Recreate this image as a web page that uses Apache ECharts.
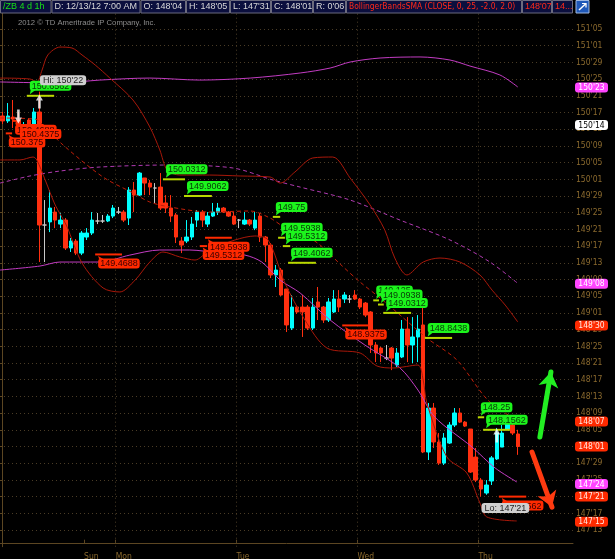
<!DOCTYPE html>
<html><head><meta charset="utf-8"><title>/ZB 4 d 1h</title>
<script src="https://cdn.jsdelivr.net/npm/echarts@6.0.0/dist/echarts.min.js"></script>
<style>html,body{margin:0;padding:0;background:#000;overflow:hidden}#chart{width:615px;height:559px}</style>
</head><body><div id="chart"></div><script>
// ---------------- DATA (prices in points) ----------------
// one hourly candle per slot, slot 0 = Fri 01:00 ET ... slot 98 = Thu 12/13 07:00
const opens  = [150.505,150.468,150.497,150.475,150.408,150.475,150.438,150.535,149.689,149.712,
149.786,149.696,149.726,149.517,149.569,149.479,149.599,149.629,149.719,149.719,
149.719,149.756,149.786,149.786,149.741,149.951,149.913,150.041,150.003,149.966,
149.973,149.854,149.816,149.764,149.569,149.569,149.599,149.726,149.786,149.696,
149.756,149.786,149.816,149.786,149.756,149.726,149.696,149.726,149.666,149.756,
149.599,149.539,149.315,149.352,149.210,148.918,149.075,149.075,149.075,148.918,
149.113,149.075,148.978,149.038,149.135,149.135,149.135,149.165,149.135,149.105,
149.038,148.791,148.768,148.693,148.768,148.641,148.701,148.910,148.791,148.851,
148.941,147.990,148.319,148.065,147.907,148.057,148.192,148.282,148.214,148.162,
147.952,147.780,147.683,147.773,147.938,148.027,148.162,148.192,148.125];
const highs  = [150.535,150.602,150.625,150.535,150.460,150.490,150.565,150.6875,149.876,149.951,
149.824,149.779,149.741,149.592,149.584,149.644,149.666,149.786,149.779,149.764,
149.771,149.839,149.824,149.801,149.973,150.011,150.086,150.041,150.026,150.003,
150.078,149.913,149.913,149.779,149.599,149.726,149.749,149.801,149.801,149.786,
149.854,149.854,149.824,149.794,149.786,149.734,149.786,149.734,149.786,149.779,
149.607,149.554,149.390,149.367,149.210,149.165,149.090,149.165,149.090,149.143,
149.225,149.083,149.143,149.202,149.202,149.187,149.165,149.202,149.143,149.113,
149.045,148.813,148.776,148.791,148.776,148.768,148.978,149.000,149.000,149.015,
149.075,148.357,148.357,148.132,148.132,148.214,148.319,148.319,148.222,148.162,
148.020,147.795,147.780,147.960,148.170,148.192,148.222,148.214,148.15625];
const lows   = [150.445,150.453,150.415,150.393,150.393,150.423,150.423,149.412,149.412,149.636,
149.666,149.666,149.502,149.487,149.464,149.464,149.577,149.614,149.696,149.704,
149.711,149.741,149.771,149.711,149.689,149.786,149.906,149.913,149.913,149.854,
149.801,149.779,149.711,149.554,149.479,149.554,149.577,149.674,149.674,149.674,
149.749,149.764,149.779,149.749,149.689,149.666,149.689,149.681,149.651,149.562,
149.412,149.292,149.225,149.158,148.888,148.903,149.023,148.851,148.903,148.903,
148.978,148.956,148.963,149.030,149.038,149.105,149.105,149.128,149.060,149.000,
148.731,148.663,148.663,148.678,148.603,148.626,148.693,148.663,148.656,148.663,
147.982,147.930,148.020,147.893,147.893,148.050,148.177,148.207,148.177,147.833,
147.765,147.65625,147.670,147.743,147.930,148.027,148.155,148.117,147.96875];
const closes = [150.468,150.505,150.482,150.438,150.438,150.438,150.535,149.689,149.689,149.816,
149.726,149.726,149.517,149.569,149.479,149.629,149.629,149.726,149.719,149.719,
149.756,149.816,149.786,149.726,149.951,149.913,150.078,150.003,149.973,149.966,
149.816,149.816,149.756,149.599,149.539,149.599,149.696,149.786,149.726,149.756,
149.786,149.816,149.786,149.756,149.696,149.726,149.726,149.696,149.726,149.599,
149.539,149.315,149.352,149.165,148.941,149.075,149.038,149.038,148.918,149.075,
149.075,148.978,149.113,149.135,149.075,149.165,149.135,149.135,149.075,149.015,
148.791,148.731,148.731,148.693,148.693,148.731,148.910,148.791,148.851,148.910,
147.990,148.319,148.065,147.907,148.095,148.192,148.282,148.214,148.184,147.840,
147.780,147.713,147.743,147.946,148.132,148.132,148.207,148.132,148.03125];

// x-axis: day boundaries (slot edges) and names
const dayNames      = ['Sun','Mon','Tue','Wed','Thu'];
const dayStartSlots = [15.5, 21.5, 44.5, 67.5, 90.5];
const gridLineDays  = ['Mon','Tue','Wed','Thu'];

// Bollinger Bands SMA (25, 2.0) – [slot, price]
const bbUpper = [[-0.5,150.789],[5.2,150.782],[6.5,150.760],[7.5,150.849],[8.6,150.962],[10.9,151.021],[13.2,151.014],[15.1,150.962],[17.6,150.887],[20.4,150.789],[24.8,150.625],[28.0,150.423],[29.9,150.251],[31.3,150.101],[33.7,150.063],[39.4,150.063],[45.2,150.056],[50.9,150.048],[52.8,150.003],[55.6,150.086],[59.0,150.191],[62.8,150.198],[66.1,150.041],[69.9,149.839],[72.7,149.651],[74.6,149.442],[76.9,149.315],[80.0,149.412],[83.2,149.442],[87.0,149.412],[90.8,149.315],[93.1,149.202],[95.6,149.090],[98.0,148.963]];
const bbMid   = [[-0.5,150.490],[6.2,150.482],[7.5,150.445],[11.5,150.288],[19.1,150.048],[24.8,149.929],[28.0,149.861],[31.8,149.824],[39.4,149.786],[47.1,149.794],[50.9,149.741],[53.3,149.681],[56.6,149.637],[60.4,149.539],[64.2,149.397],[68.0,149.262],[71.8,149.143],[75.6,149.015],[80.7,148.843],[86.4,148.679],[92.3,148.379],[98.0,148.222]];
const bbLower = [[-0.5,150.176],[3.3,150.176],[5.8,150.198],[6.5,150.176],[8.1,150.026],[10.0,149.839],[12.1,149.689],[15.1,149.405],[19.1,149.218],[22.3,149.188],[25.2,149.277],[28.0,149.412],[30.5,149.487],[33.7,149.450],[36.6,149.427],[39.4,149.502],[44.2,149.577],[48.0,149.607],[50.5,149.577],[53.7,149.255],[57.5,148.978],[61.7,148.768],[68.0,148.731],[71.2,148.634],[74.3,148.619],[79.0,148.641],[80.0,148.529],[80.7,148.357],[84.5,147.953],[88.3,147.833],[90.8,147.608],[92.1,147.504],[97.8,147.474]];
// second (magenta) envelope
const maUpper = [[-0.5,150.760],[10.9,150.752],[18.5,150.774],[28.0,150.789],[37.5,150.774],[47.1,150.789],[56.6,150.827],[62.3,150.864],[66.1,150.909],[71.8,150.939],[79.4,150.947],[85.1,150.924],[88.9,150.879],[94.6,150.812],[98.0,150.722]];
const maMid   = [[-0.5,150.003],[5.2,150.056],[10.9,150.093],[18.5,150.123],[31.3,150.138],[43.8,150.116],[51.4,150.026],[56.6,149.973],[66.1,149.876],[75.6,149.726],[85.1,149.577],[92.7,149.412],[98.0,149.252]];
const maLower = [[-0.5,149.352],[7.1,149.382],[10.9,149.412],[18.5,149.412],[24.2,149.464],[29.9,149.502],[35.6,149.502],[41.3,149.479],[46.1,149.464],[49.3,149.412],[52.8,149.277],[56.6,149.180],[62.3,148.978],[68.9,148.791],[75.6,148.619],[79.0,148.454],[82.2,148.252],[89.3,148.027],[93.7,147.870],[97.8,147.766]];

// trade-signal bubbles: price level, start/end slot of the level line, side
const sigPrice = [150.375,150.4688,150.4375,150.6562,149.4688,150.0312,149.9062,149.5312,149.5938,149.75,149.5938,149.5312,149.4062,148.9375,149.125,149.0938,149.0312,148.8438,148.25,148.1562,147.6562];
const sigStart = [0.6,1.8,2.7,4.6,17.6,30.5,34.5,37.5,38.5,51.4,52.4,53.3,54.3,64.6,70.5,71.4,72.4,80.3,90.4,91.4,94.4];
const sigEnd   = [1.8,2.7,7.8,9.8,22.7,34.7,39.8,38.9,43.6,52.8,53.7,54.7,59.6,69.7,71.6,72.5,77.7,85.5,91.6,96.5,99.6];
const sigSide  = ['sell','sell','sell','buy','sell','buy','buy','sell','sell','buy','buy','buy','buy','sell','buy','buy','buy','buy','buy','buy','sell'];

// high / low of the period
const extremeKind  = ['Hi','Lo'];
const extremeSlot  = [7, 91];
const extremePrice = [150.6875, 147.65625];

// white study arrows
const arrowSlot  = [3, 7, 94];
const arrowPrice = [150.501, 150.613, 148.113];
const arrowDir   = ['down','up','up'];

// hand-drawn outlook arrows: [slotFrom, priceFrom, slotTo, priceTo]
const outlookUp   = [102.2, 148.102, 104.3, 148.589];
const outlookDown = [100.7, 147.990, 104.5, 147.578];

// price tags on the right axis
const tagPrices = [150.71875,150.4375,149.25,148.9375,148.21875,148.03125,147.75,147.65625,147.46875];
const tagSource = ['maUpper','reference','maMid','bbUpper','bbMid','last','maLower','low','bbLower'];

// ---------------- helpers ----------------
const T = p => p * 32 - 1;                 // price -> axis units (32nds, shifted so ticks fall on 'x01, 'x05 ...)
const fmt32 = v => { const n = Math.round(v + 1); const h = Math.floor(n / 32); const r = n - h * 32; return h + "'" + String(r).padStart(2, '0'); };
const fmtP = p => fmt32(T(p));
const NARROW = '"Liberation Sans Narrow","DejaVu Sans Condensed",sans-serif';
const SANS = '"Liberation Sans",Arial,sans-serif';
const AXIS_COL = '#8b6a2e', AXIS_LINE = '#5c4622', GRID_COL = '#4a3c26';
const UP = '#00ffff', DOWN = '#ff3010';
const TAG_STYLE = {
  maUpper:{bg:'#ff44ff',fg:'#ffffff'}, maMid:{bg:'#ff44ff',fg:'#ffffff'}, maLower:{bg:'#ff44ff',fg:'#ffffff'},
  bbUpper:{bg:'#ff2a00',fg:'#ffe8e0'}, bbMid:{bg:'#ff2a00',fg:'#ffe8e0'}, bbLower:{bg:'#ff2a00',fg:'#ffe8e0'},
  last:{bg:'#ff2a00',fg:'#ffe8e0'}, low:{bg:'#ff2a00',fg:'#ffe8e0'}, reference:{bg:'#ffffff',fg:'#000000'}
};

const bandLine = (name, pts, color, type) => ({
  name, type:'line', data: pts.map(([s, p]) => [s, T(p)]), showSymbol:false, smooth:0.3,
  lineStyle:{color, width:1, type}, silent:true, z:4
});

// header
const headerCells = [
  {x:0,   w:51.5, t:'/ZB 4 d 1h', c:'#16e016', f:'9px ' + SANS},
  {x:51.5,w:89,   t:'D: 12/13/12 7:00 AM', c:'#d8d8d8', f:'9px ' + SANS},
  {x:140.5,w:45.5,t:"O: 148'04", c:'#d8d8d8', f:'9px ' + SANS},
  {x:186, w:44,   t:"H: 148'05", c:'#d8d8d8', f:'9px ' + SANS},
  {x:230, w:41,   t:"L: 147'31", c:'#d8d8d8', f:'9px ' + SANS},
  {x:271, w:42,   t:"C: 148'01", c:'#d8d8d8', f:'9px ' + SANS},
  {x:313, w:33,   t:"R: 0'06", c:'#d8d8d8', f:'9px ' + SANS},
  {x:346, w:176,  t:'BollingerBandsSMA (CLOSE, 0, 25, -2.0, 2.0)', c:'#ff2a1a', f:'8.4px ' + NARROW},
  {x:522, w:30,   t:"148'07", c:'#ff2a1a', f:'9px ' + SANS},
  {x:552, w:21,   t:'14...', c:'#ff2a1a', f:'9px ' + SANS}
];
const graphic = [];
headerCells.forEach(c => {
  graphic.push({type:'rect', z:100, shape:{x:c.x+0.5, y:0.5, width:c.w-1, height:12.5}, style:{fill:'#0b0f3e', stroke:'#6b6b7e', lineWidth:1}});
  graphic.push({type:'text', z:101, x:c.x+3, y:7, style:{text:c.t, fill:c.c, font:c.f, verticalAlign:'middle'}});
});
graphic.push({type:'rect', z:100, shape:{x:576, y:0.5, width:13, height:12.5}, style:{fill:'#1f58b8', stroke:'#9fb8e0', lineWidth:1}});
graphic.push({type:'polyline', z:101, shape:{points:[[579,10],[586,3.5]]}, style:{stroke:'#ffffff', lineWidth:1.5}});
graphic.push({type:'polyline', z:101, shape:{points:[[582,3.5],[586,3.5],[586,7.5]]}, style:{stroke:'#ffffff', lineWidth:1.2, fill:null}});
graphic.push({type:'text', z:101, x:18, y:23, style:{text:'2012 \u00a9 TD Ameritrade IP Company, Inc.', fill:'#8c8c8c', font:'7.7px ' + SANS, verticalAlign:'middle'}});

const upPath   = 'path://M4,0 L8,6 L5.5,6 L5.5,14 L2.5,14 L2.5,6 L0,6 Z';
const downPath = 'path://M2.5,0 L5.5,0 L5.5,8 L8,8 L4,14 L0,8 L2.5,8 Z';

const option = {
  backgroundColor:'#000000',
  animation:false,
  textStyle:{fontFamily:NARROW},
  graphic,
  grid:{left:0, right:42, top:12.3, bottom:12.3, containLabel:false, outerBoundsMode:'none'},
  xAxis:{
    type:'value', min:-0.5, max:108.5, offset:-3,
    axisLine:{show:true, lineStyle:{color:AXIS_LINE, width:1}},
    axisTick:{show:true, inside:true, length:4, customValues:dayStartSlots, lineStyle:{color:AXIS_LINE}},
    axisLabel:{show:true, customValues:dayStartSlots, align:'left', margin:9, color:AXIS_COL, fontSize:8.5, fontFamily:NARROW,
      formatter: v => { const i = dayStartSlots.findIndex(d => Math.abs(d - v) < 0.01); return i >= 0 ? dayNames[i] : ''; }},
    splitLine:{show:false}
  },
  yAxis:{
    type:'value', position:'right', min:4712, max:4840, interval:4,
    axisLine:{show:true, lineStyle:{color:AXIS_LINE}},
    axisTick:{show:true, inside:true, length:4, lineStyle:{color:AXIS_LINE}},
    axisLabel:{color:AXIS_COL, fontSize:8.5, fontFamily:NARROW, margin:3, showMinLabel:false, showMaxLabel:false, formatter:fmt32},
    splitLine:{show:true, showMinLine:false, showMaxLine:false, lineStyle:{color:GRID_COL, type:[1,3], width:1}}
  },
  series:[
    {
      name:'/ZB', type:'candlestick', z:3,
      data: opens.map((o, i) => [i, T(o), T(closes[i]), T(lows[i]), T(highs[i])]),
      encode:{x:0, y:[1,2,3,4]}, barWidth:4,
      itemStyle:{color:UP, color0:DOWN, borderColor:UP, borderColor0:DOWN, borderColorDoji:'#c8c8c8', borderWidth:1},
      markLine:{silent:true, symbol:['none','none'], label:{show:false}, z:1,
        lineStyle:{color:GRID_COL, type:[1,3], width:1},
        data: gridLineDays.map(d => ({xAxis: dayStartSlots[dayNames.indexOf(d)]}))}
    },
    bandLine('MA upper', maUpper, '#c23cc2', 'solid'),
    bandLine('MA mid', maMid, '#b03ab0', [4,3]),
    bandLine('MA lower', maLower, '#c23cc2', 'solid'),
    bandLine('BB upper', bbUpper, '#a8180a', 'solid'),
    bandLine('BB mid', bbMid, '#c01e08', [4,3]),
    bandLine('BB lower', bbLower, '#a8180a', 'solid'),
    {
      name:'signals', type:'custom', z:6, silent:true,
      data: sigPrice.map((p, i) => [sigStart[i], T(p), sigEnd[i]]),
      encode:{x:[0,2], y:1},
      renderItem:(params, api) => {
        const i = params.dataIndex;
        const a = api.coord([api.value(0), api.value(1)]);
        const b = api.coord([api.value(2), api.value(1)]);
        const buy = sigSide[i] === 'buy';
        const lc = buy ? '#b9d800' : '#ff2a00';
        const bg = buy ? '#1cf51c' : '#ff2a00';
        const fg = buy ? '#083808' : '#3a0000';
        const tail = buy ? [[a[0]+4,a[1]-6],[a[0]+9,a[1]-6],[a[0]+3,a[1]-1.5]] : [[a[0]+4,a[1]+5],[a[0]+9,a[1]+5],[a[0]+3,a[1]+1.5]];
        return {type:'group', children:[
          {type:'line', shape:{x1:a[0], y1:a[1], x2:b[0], y2:b[1]}, style:{stroke:lc, lineWidth:2}},
          {type:'polygon', shape:{points:tail}, style:{fill:bg}},
          {type:'text', x:a[0]+3, y: buy ? a[1]-5 : a[1]+4,
            style:{text:String(sigPrice[i]), fill:fg, font:'9px ' + SANS, align:'left', verticalAlign: buy ? 'bottom' : 'top',
              backgroundColor:bg, borderRadius:3, padding:[1,2,0,2]}}
        ]};
      }
    },
    {
      name:'arrows', type:'scatter', z:7, silent:true,
      data: arrowSlot.map((s, i) => ({value:[s, T(arrowPrice[i])], symbol: arrowDir[i] === 'up' ? upPath : downPath})),
      symbolSize:[7,14], itemStyle:{color:'#ffffff'}
    },
    {
      name:'extremes', type:'custom', z:8, silent:true,
      data: extremePrice.map((p, i) => [extremeSlot[i], T(p)]),
      encode:{x:0, y:1},
      renderItem:(params, api) => {
        const i = params.dataIndex;
        const pt = api.coord([api.value(0), api.value(1)]);
        const hi = extremeKind[i] === 'Hi';
        return {type:'text', x:pt[0]+0.5, y: hi ? pt[1]-6.5 : pt[1]+6.5,
          style:{text: extremeKind[i] + ': ' + fmtP(extremePrice[i]), fill:'#222222', font:'9px ' + SANS,
            align:'left', verticalAlign: hi ? 'bottom' : 'top', backgroundColor:'#cfcfcf', borderRadius:3, padding:[1,3,0,3]}};
      }
    },
    {
      name:'outlook', type:'lines', coordinateSystem:'cartesian2d', z:9, silent:true,
      symbol:['none','arrow'], symbolSize:15,
      lineStyle:{width:5, opacity:1, cap:'round'},
      data:[
        {coords:[[outlookUp[0], T(outlookUp[1])],[outlookUp[2], T(outlookUp[3])]], lineStyle:{color:'#22ee22'}},
        {coords:[[outlookDown[0], T(outlookDown[1])],[outlookDown[2], T(outlookDown[3])]], lineStyle:{color:'#ff3a10'}}
      ]
    },
    {
      name:'tags', type:'custom', z:10, silent:true,
      data: tagPrices.map(p => [108.5, T(p)]),
      encode:{x:0, y:1},
      renderItem:(params, api) => {
        const i = params.dataIndex;
        const pt = api.coord([api.value(0), api.value(1)]);
        const st = TAG_STYLE[tagSource[i]];
        return {type:'group', children:[
          {type:'rect', shape:{x:pt[0]+2, y:pt[1]-5, width:33, height:10, r:3}, style:{fill:st.bg}},
          {type:'text', x:pt[0]+18.5, y:pt[1]+0.5, style:{text:fmtP(tagPrices[i]), fill:st.fg, font:'8.5px ' + NARROW, align:'center', verticalAlign:'middle'}}
        ]};
      }
    }
  ]
};
const chart = echarts.init(document.getElementById('chart'), null, {renderer:'canvas'});
chart.setOption(option);
</script></body></html>
